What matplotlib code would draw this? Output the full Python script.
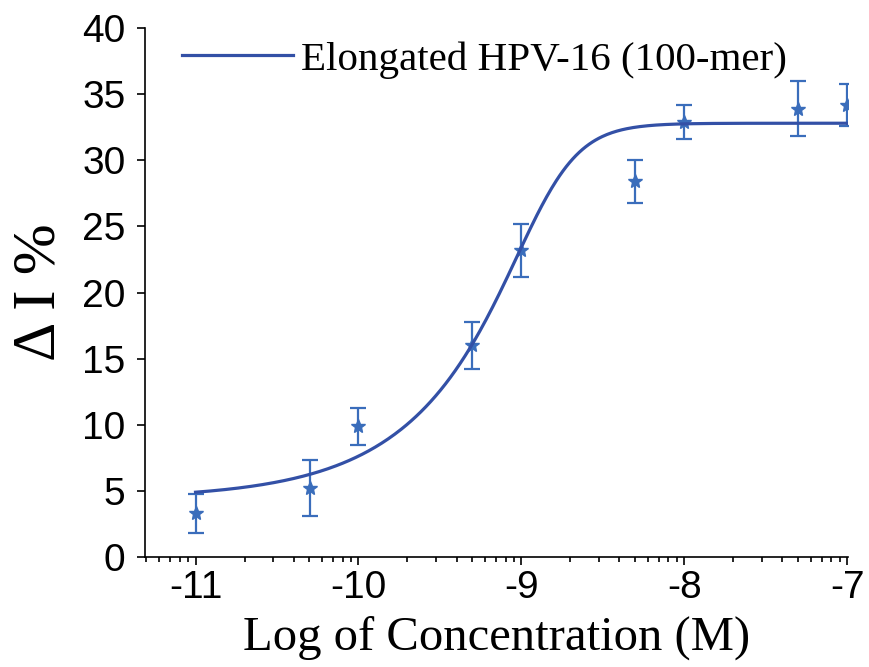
import numpy as np
import matplotlib
matplotlib.use('Agg')
import matplotlib.pyplot as plt
from matplotlib.ticker import FixedLocator

plt.rcParams['axes.unicode_minus'] = False

# measured points (log M), mean delta I %, error
log_conc = [-11, -10.3, -10, -9.3, -9, -8.3, -8, -7.3, -7]
delta_i = [3.3, 5.2, 9.9, 16.0, 23.2, 28.4, 32.9, 33.9, 34.2]
delta_err = [1.5, 2.1, 1.4, 1.8, 2.0, 1.6, 1.3, 2.1, 1.6]

# fit parameters (asymmetric logistic)
fit_bottom = 4.4
fit_top = 32.8
fit_logec50 = -8.834
fit_hill = 2.7
fit_asym = 0.3

x_ticks = [-11, -10, -9, -8, -7]
y_ticks = [0, 5, 10, 15, 20, 25, 30, 35, 40]

line_color = '#3350A6'
point_color = '#3A6DBB'

xs = np.linspace(log_conc[0], log_conc[-1], 400)
ys = fit_bottom + (fit_top - fit_bottom) / (1 + 10 ** ((fit_logec50 - xs) * fit_hill)) ** fit_asym

fig = plt.figure(figsize=(8.69, 6.67), dpi=100)
ax = fig.add_axes([0.1669, 0.1649, 0.8089, 0.7931])

ax.plot(xs, ys, color=line_color, lw=2.3, label='Elongated HPV-16 (100-mer)', zorder=3)
ax.errorbar(log_conc, delta_i, yerr=delta_err, fmt='*', color=point_color, ms=10,
            elinewidth=1.6, capsize=5.5, capthick=1.6, zorder=2)

ax.set_xlim(-11.31, -6.995)
ax.set_ylim(0, 40)
ax.set_xticks(x_ticks)
ax.set_yticks(y_ticks)
minor = [d + np.log10(k) for d in range(-12, -7) for k in range(2, 10)]
minor = [m for m in minor if m > -11.31]
ax.xaxis.set_minor_locator(FixedLocator(minor))

for s in ['top', 'right']:
    ax.spines[s].set_visible(False)
for s in ['left', 'bottom']:
    ax.spines[s].set_linewidth(1.2)

ax.tick_params(axis='y', which='major', direction='out', length=6, width=1.2,
               labelsize=28, pad=8)
ax.tick_params(axis='x', which='major', direction='out', length=6, width=1.2,
               labelsize=28, pad=3)
ax.tick_params(axis='x', which='minor', direction='out', length=3.5, width=1.2)
for lab in ax.get_xticklabels() + ax.get_yticklabels():
    lab.set_family('Liberation Sans')

ax.set_xlabel('Log of Concentration (M)', family='Liberation Serif', fontsize=35, labelpad=7)
ax.set_ylabel('Δ I %', family='Liberation Serif', fontsize=44)
ax.yaxis.set_label_coords(-0.111, 0.5)

ax.legend(loc='upper left', bbox_to_anchor=(0.0, 1.045), frameon=False,
          prop={'family': 'Liberation Serif', 'size': 29.5},
          handlelength=2.7, handletextpad=0.2)

plt.savefig('out.png', dpi=100)
